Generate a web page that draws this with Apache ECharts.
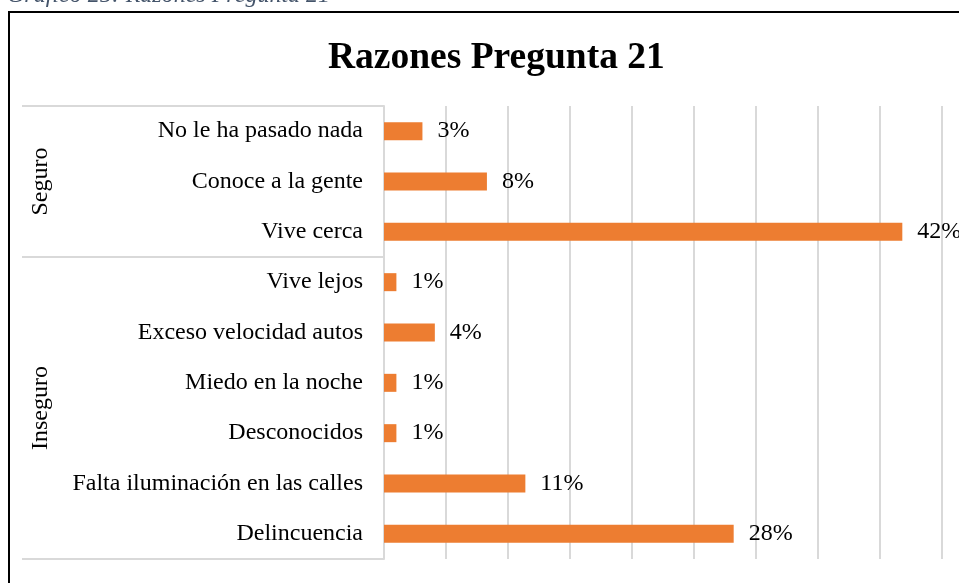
<!DOCTYPE html>
<html>
<head>
<meta charset="utf-8">
<script src="https://cdn.jsdelivr.net/npm/echarts@6/dist/echarts.min.js"></script>
<style>
  html, body { margin: 0; padding: 0; background: #fff; }
  #chart { width: 959px; height: 583px; }
</style>
</head>
<body>
<div id="chart"></div>
<script>
// categorías (de arriba hacia abajo) y su grupo
const categories = [
  "No le ha pasado nada", "Conoce a la gente", "Vive cerca",
  "Vive lejos", "Exceso velocidad autos", "Miedo en la noche",
  "Desconocidos", "Falta iluminación en las calles", "Delincuencia"
];
const groupNames = ["Seguro", "Inseguro"];
const groupSizes = [3, 6];
// porcentajes
const values = [3.1, 8.3, 41.8, 1.0, 4.1, 1.0, 1.0, 11.4, 28.2];
const caption = "Gráfico 25: Razones Pregunta 21";
const titleText = "Razones Pregunta 21";

const serif = "'Liberation Serif', 'Times New Roman', serif";
const chart = echarts.init(document.getElementById("chart"));

chart.setOption({
  animation: false,
  title: {
    text: titleText,
    left: 323,
    top: 34,
    textStyle: { fontFamily: serif, fontSize: 37.5, fontWeight: "bold", color: "#000" }
  },
  grid: { left: 384, right: 17, top: 106, bottom: 24, containLabel: false },
  xAxis: {
    type: "value",
    min: 0,
    max: 45,
    interval: 5,
    axisLabel: { show: false },
    axisLine: { show: false },
    axisTick: { show: false },
    splitLine: { lineStyle: { color: "#d9d9d9", width: 2 } }
  },
  yAxis: {
    type: "category",
    inverse: true,
    data: categories,
    axisLine: { lineStyle: { color: "#d9d9d9", width: 2 } },
    axisTick: { show: false },
    axisLabel: { margin: 21, fontFamily: serif, fontSize: 24, color: "#000" }
  },
  series: [{
    type: "bar",
    data: values,
    barWidth: 18,
    itemStyle: { color: "#ED7D31" },
    label: {
      show: true,
      position: "right",
      distance: 15,
      fontFamily: serif,
      fontSize: 24,
      color: "#000",
      formatter: p => Math.round(p.value) + "%"
    }
  }]
});

// caja de grupos (multinivel) a partir de las posiciones del eje
function drawGroups() {
  const band = chart.convertToPixel({ yAxisIndex: 0 }, categories[1]) -
               chart.convertToPixel({ yAxisIndex: 0 }, categories[0]);
  const axisX = 384;
  const elements = [];
  let start = 0;
  const topY = chart.convertToPixel({ yAxisIndex: 0 }, categories[0]) - band / 2;
  elements.push({ type: "line", shape: { x1: 22, y1: topY, x2: axisX, y2: topY },
    style: { stroke: "#d9d9d9", lineWidth: 2 } });
  groupNames.forEach((name, i) => {
    const y0 = chart.convertToPixel({ yAxisIndex: 0 }, categories[start]) - band / 2;
    const y1 = chart.convertToPixel({ yAxisIndex: 0 }, categories[start + groupSizes[i] - 1]) + band / 2;
    elements.push({ type: "line", shape: { x1: 22, y1: y1, x2: axisX, y2: y1 },
      style: { stroke: "#d9d9d9", lineWidth: 2 } });
    elements.push({
      type: "text", x: 41, y: (y0 + y1) / 2, rotation: Math.PI / 2,
      style: { text: name, font: "24px " + serif, fill: "#000", align: "center", verticalAlign: "middle" }
    });
    start += groupSizes[i];
  });
  // marco exterior y leyenda del gráfico
  elements.push({ type: "rect", shape: { x: 9, y: 12, width: 980, height: 620 },
    style: { fill: null, stroke: "#000", lineWidth: 2 } });
  elements.push({ type: "text", x: 7, y: 8,
    style: { text: caption, font: "italic 24px " + serif, fill: "#44546A", align: "left", verticalAlign: "bottom" } });
  chart.setOption({ graphic: elements });
}
drawGroups();
</script>
</body>
</html>
